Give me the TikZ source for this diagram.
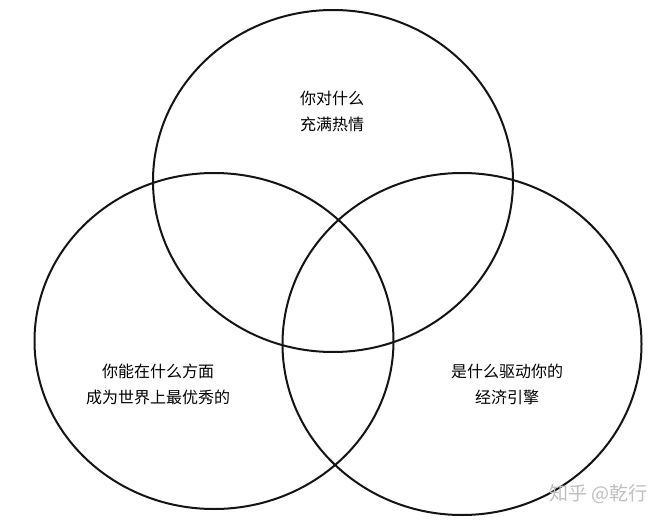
\documentclass[tikz,border=0pt]{standalone}
\usepackage{fontspec}
\setmainfont{Noto Sans CJK SC}
\begin{document}
\begin{tikzpicture}[x=1pt,y=-1pt,
  ring/.style={draw=black!92,line width=2pt},
  lbl/.style={align=center,font=\fontsize{16}{26}\selectfont,text=black,inner sep=0pt},
  wmark/.style={font=\fontsize{19}{22}\selectfont,text=black!25,inner sep=0pt}]
\useasboundingbox[fill=white] (0,0) rectangle (664,524);
\draw[ring] (333,181) ellipse [x radius=180, y radius=171];
\draw[ring] (214,341) ellipse [x radius=179.5, y radius=168];
\draw[ring] (462,344) ellipse [x radius=179.5, y radius=171];
\node[lbl] (top) at (332,111) {你对什么\\充满热情};
\node[lbl] (left) at (158,384) {你能在什么方面\\成为世界上最优秀的};
\node[lbl] (right) at (507,384) {是什么驱动你的\\经济引擎};
\node[wmark,anchor=east] (wm) at (648,494) {知乎 @乾行};
\end{tikzpicture}
\end{document}
